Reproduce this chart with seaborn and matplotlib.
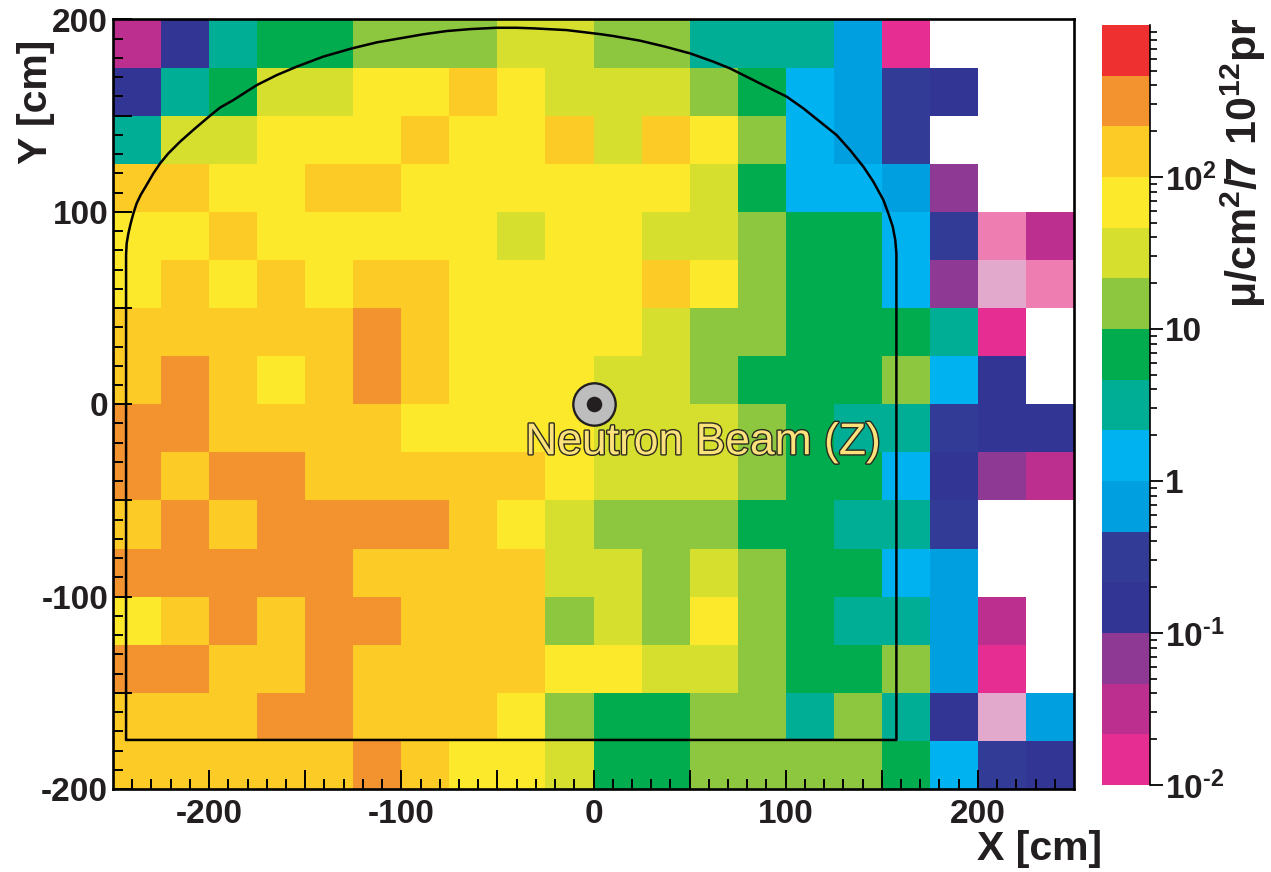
"""
plot.py - Muon flux map in the X-Y plane with the detector outline.
"""

import matplotlib
matplotlib.use("Agg")
import matplotlib.patheffects as pe
import matplotlib.pyplot as plt
import numpy as np
import pandas as pd
import seaborn as sns
from matplotlib.colors import ListedColormap, LogNorm
from matplotlib.ticker import FixedLocator, NullFormatter

nan = np.nan

row_187 = [.032, .147, 3.2, 6.8, 6.8, 14.7, 14.7, 14.7, 32, 32, 14.7, 14.7, 3.2, 3.2, 3.2, .68, .015, nan, nan, nan]
row_162 = [.147, 3.2, 6.8, 32, 32, 68, 68, 147, 68, 32, 32, 32, 14.7, 6.8, 1.47, .68, .316, .147, nan, nan]
row_137 = [3.2, 32, 32, 68, 68, 68, 147, 68, 68, 147, 32, 147, 68, 14.7, 1.47, .68, .316, nan, nan, nan]
row_112 = [147, 147, 68, 68, 147, 147, 68, 68, 68, 68, 68, 68, 32, 6.8, 1.47, 1.47, .68, .068, nan, nan]
row_87 = [68, 68, 147, 68, 68, 68, 68, 68, 32, 68, 68, 32, 32, 14.7, 6.8, 6.8, 1.47, .316, .0068, .032]
row_62 = [68, 147, 68, 147, 68, 147, 147, 68, 68, 68, 68, 147, 68, 14.7, 6.8, 6.8, 1.47, .068, .0032, .0068]
row_37 = [147, 147, 147, 147, 147, 316, 147, 68, 68, 68, 68, 32, 14.7, 14.7, 6.8, 6.8, 6.8, 3.2, .015, nan]
row_12 = [147, 316, 147, 68, 147, 316, 147, 68, 68, 68, 32, 32, 14.7, 6.8, 6.8, 6.8, 14.7, 1.47, .147, nan]
row_m12 = [316, 316, 147, 147, 147, 147, 68, 68, 68, 68, 32, 32, 32, 14.7, 6.8, 3.2, 3.2, .316, .147, .147]
row_m37 = [316, 147, 316, 316, 147, 147, 147, 147, 147, 68, 32, 32, 32, 14.7, 6.8, 6.8, 1.47, .147, .068, .032]
row_m62 = [147, 316, 147, 316, 316, 316, 316, 147, 68, 32, 14.7, 14.7, 14.7, 6.8, 6.8, 3.2, 3.2, .316, nan, nan]
row_m87 = [316, 316, 316, 316, 316, 147, 147, 147, 147, 32, 32, 14.7, 32, 14.7, 6.8, 6.8, 1.47, .68, nan, nan]
row_m112 = [68, 147, 316, 147, 316, 316, 147, 147, 147, 14.7, 32, 14.7, 68, 14.7, 6.8, 3.2, 3.2, .68, .032, nan]
row_m137 = [316, 316, 147, 147, 316, 147, 147, 147, 147, 68, 68, 32, 32, 14.7, 6.8, 6.8, 14.7, .68, .015, nan]
row_m162 = [147, 147, 147, 316, 316, 147, 147, 147, 68, 14.7, 6.8, 6.8, 14.7, 14.7, 3.2, 14.7, 3.2, .147, .0032, .68]
row_m187 = [147, 147, 147, 147, 147, 316, 147, 68, 68, 32, 6.8, 6.8, 14.7, 14.7, 14.7, 14.7, 6.8, 1.47, .316, .147]

x_bins = [-237.5 + 25 * i for i in range(20)]
y_bins = [187.5 - 25 * i for i in range(16)]

# colour levels, three per decade, the first two sit below the colour bar
level_colors = ["#E2A9CD", "#EE7EB1", "#E62E92", "#BD2F8F", "#8E3993", "#333594", "#323C96",
                "#00A0E0", "#00B3F0", "#00AE96", "#00AC4D", "#8DC73F", "#D7DF2E", "#FDE92B",
                "#FDCB26", "#F29330", "#EE3030"]

# detector outline in cm
outline_x = [-243.2, -243.2, -242.9, -242, -240.8, -239.4, -237.7, -235.6, -232.5, -229, -225.5, -221.2,
             -215.1, -207.3, -199.5, -194.3, -187.4, -175.2, -164.8, -154.4, -140.6, -125.6, -112.8,
             -100.7, -88.6, -76.4, -64.3, -50.4, -40, -31.3, -14, 3.4, 10.3, 24.2, 37.2, 50.2, 62.3, 71,
             81.4, 91.8, 100.5, 109.2, 117.8, 126.5, 133.5, 140.4, 145.6, 150.8, 153.4, 155.7, 157, 157.6,
             157.6, -243.2]
outline_y = [-174.5, 77.6, 83.6, 88.8, 94, 99.2, 104.4, 108.8, 114, 120, 125.2, 130.4,
             136.5, 143.4, 150, 154.2, 158.1, 165.9, 171.1, 175.5, 180.7, 185, 188.1,
             190.2, 192.3, 194, 195, 195.7, 195.7, 195.4, 194.5, 192.4, 191.4, 189, 185.9, 182.4, 178.1, 174.6,
             169.4, 164.2, 159.9, 153.8, 146.9, 139.9, 132.1, 123.5, 115.7, 106.2, 99.2, 92.3, 85.4, 78.4,
             -174.5, -174.5]

x_major = [-200, -150, -100, -50, 0, 50, 100, 150, 200]
y_major = [-200, -150, -100, -50, 0, 50, 100, 150, 200]
tick_labels = {-200: "-200", -100: "-100", 0: "0", 100: "100", 200: "200"}
cbar_ticks = [0.01, 0.1, 1, 10, 100]
cbar_labels = [r"10$^{\text{-2}}$", r"10$^{\text{-1}}$", "1", "10", r"10$^{2}$"]

TEXT = "#231F20"
W, H = 1271, 872


def to_col(x):
    return (np.asarray(x, dtype=float) + 250) / 25


def to_row(y):
    return (200 - np.asarray(y, dtype=float)) / 25


sns.set_theme(style="white")
plt.rcParams["font.family"] = ["Liberation Sans", "DejaVu Sans"]
plt.rcParams["font.weight"] = "bold"
plt.rcParams["mathtext.fontset"] = "custom"
plt.rcParams["mathtext.rm"] = "Liberation Sans:bold"
plt.rcParams["mathtext.default"] = "rm"
plt.rcParams["axes.unicode_minus"] = False

flux = pd.DataFrame(
    [row_187, row_162, row_137, row_112, row_87, row_62, row_37, row_12,
     row_m12, row_m37, row_m62, row_m87, row_m112, row_m137, row_m162, row_m187],
    index=y_bins, columns=x_bins,
)

fig = plt.figure(figsize=(W / 100, H / 100), dpi=100)
ax = fig.add_axes([113 / W, 1 - 789 / H, (1074 - 113) / W, (789 - 19.5) / H])
cax = fig.add_axes([1102 / W, 1 - 785 / H, 48 / W, (785 - 25) / H])

sns.heatmap(flux, ax=ax, cbar_ax=cax, cmap=ListedColormap(level_colors),
            norm=LogNorm(vmin=10 ** (-2 - 2 / 3), vmax=1000), square=False, linewidths=0)
ax.set_xlim(0, 20)
ax.set_ylim(16, 0)
ax.set_xlabel("")
ax.set_ylabel("")
ax.set_axisbelow(False)  # seaborn's style would hide the inward ticks under the mesh

for side in ax.spines:
    ax.spines[side].set_visible(True)
    ax.spines[side].set_color("black")
    ax.spines[side].set_linewidth(1.9)

ax.set_xticks(to_col(x_major))
ax.set_xticklabels([tick_labels.get(v, "") for v in x_major], rotation=0)
ax.set_yticks(to_row(y_major))
ax.set_yticklabels([tick_labels.get(v, "") for v in y_major], rotation=0, va="center_baseline")
ax.set_xticks(to_col([v for v in range(-240, 250, 10) if v % 50]), minor=True)
ax.set_yticks(to_row([v for v in range(-190, 200, 10) if v % 50]), minor=True)
ax.tick_params(axis="both", which="major", direction="in", length=14, width=1.4, color="black",
               bottom=True, left=True, labelsize=24, labelcolor=TEXT)
ax.tick_params(axis="both", which="minor", direction="in", length=7.5, width=1.4, color="black",
               bottom=True, left=True)
ax.tick_params(axis="x", which="major", pad=7)
ax.tick_params(axis="y", which="major", pad=3.5)

ax.plot(to_col(outline_x), to_row(outline_y), color="black", lw=1.8, solid_joinstyle="round", zorder=3)

# beam spot at the origin
ax.scatter(to_col([0]), to_row([0]), s=930, color="#BDBDBD", edgecolor=TEXT, linewidth=1.7, zorder=4)
ax.scatter(to_col([0]), to_row([0]), s=125, color=TEXT, linewidth=0, zorder=5)
ax.text(to_col(57), to_row(-20), "Neutron Beam (Z)", fontsize=32, fontweight="normal", color="#FBE27B",
        ha="center", va="center", zorder=6,
        path_effects=[pe.Stroke(linewidth=2.0, foreground="#2B2A20"), pe.Normal()])

cbar = ax.collections[0].colorbar
cbar.outline.set_visible(False)
cax.set_ylim(0.01, 1000)
cax.spines["right"].set_visible(True)
cax.spines["right"].set_color("black")
cax.spines["right"].set_linewidth(1.2)
cax.yaxis.set_major_locator(FixedLocator(cbar_ticks))
cax.yaxis.set_ticklabels(cbar_labels)
minor = [m * 10.0 ** e for e in range(-2, 3) for m in range(2, 10)]
cax.yaxis.set_minor_locator(FixedLocator(minor))
cax.yaxis.set_minor_formatter(NullFormatter())
cax.tick_params(axis="y", which="major", right=True, direction="out", length=9.5, width=1.3,
                color="black", labelsize=24, labelcolor=TEXT, pad=1)
cax.tick_params(axis="y", which="minor", right=True, direction="out", length=5, width=1.2, color="black")

fig.text(1102 / W, 1 - 860 / H, "X [cm]", fontsize=29.5, color=TEXT, ha="right", va="baseline")
fig.text(36 / W, 1 - 40 / H, "Y [cm]", fontsize=29.5, color=TEXT, rotation=90, ha="center", va="top")
fig.text(1243 / W, 1 - 18 / H, "μ/cm$^{2}$/7 10$^{12}$pr", fontsize=31, color=TEXT, rotation=90,
         ha="center", va="top")

fig.savefig("out.png", dpi=100)
plt.close(fig)
